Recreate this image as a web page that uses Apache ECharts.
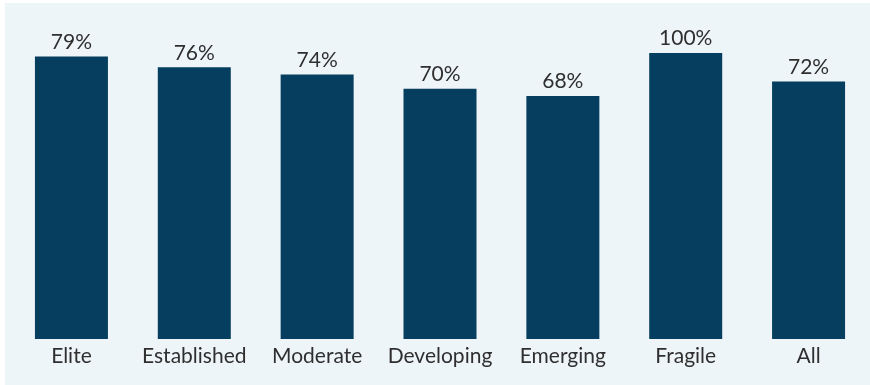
<!DOCTYPE html>
<html>
<head>
<meta charset="utf-8">
<script src="https://cdn.jsdelivr.net/npm/echarts@6/dist/echarts.min.js"></script>
<style>
  html, body { margin: 0; padding: 0; background: #ffffff; }
  #chart { position: absolute; left: 5px; top: 3px; width: 865px; height: 382px; }
</style>
</head>
<body>
<div id="chart"></div>
<script>
// Share of respondents by maturity group
const categories = ['Elite', 'Established', 'Moderate', 'Developing', 'Emerging', 'Fragile', 'All'];
const shares = [79, 76, 74, 70, 68, 100, 72];
// Value axis is capped; taller bars are clipped at the top of the plot
const axisMax = 80;

const chart = echarts.init(document.getElementById('chart'), null, { renderer: 'canvas' });
chart.setOption({
  backgroundColor: '#EEF5F9',
  animation: false,
  grid: { left: 5, top: 50, width: 861, height: 286, containLabel: false },
  xAxis: {
    type: 'category',
    data: categories,
    axisLine: { show: false },
    axisTick: { show: false },
    axisLabel: {
      interval: 0,
      margin: 7,
      color: '#2F2F2F',
      fontFamily: 'Lato',
      fontSize: 21
    }
  },
  yAxis: {
    type: 'value',
    min: 0,
    max: axisMax,
    show: false,
    splitLine: { show: false }
  },
  series: [{
    type: 'bar',
    data: shares,
    barWidth: 73,
    clip: true,
    itemStyle: { color: '#053E5F' },
    label: {
      show: true,
      position: 'top',
      distance: 4,
      color: '#2F2F2F',
      fontFamily: 'Lato',
      fontSize: 21,
      formatter: p => p.value + '%'
    }
  }]
});
</script>
</body>
</html>
